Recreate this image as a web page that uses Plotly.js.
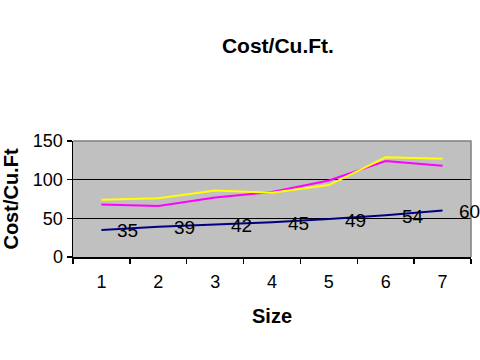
<!DOCTYPE html>
<html>
<head>
<meta charset="utf-8">
<script src="https://cdn.plot.ly/plotly-3.0.1.min.js"></script>
<style>html,body{margin:0;padding:0;background:#fff}#chart{width:480px;height:360px}</style>
</head>
<body>
<div id="chart"></div>
<script>
var sizes = ['1', '2', '3', '4', '5', '6', '7'];
var seriesYellow = [74, 76, 86, 83, 93, 129, 127];
var seriesMagenta = [68, 66, 77, 84, 99, 124, 118];
var seriesBlue = [35, 39, 42, 45, 49, 54, 60];
var blueLabels = ['35', '39', '42', '45', '49', '54', '60'];
var yTicks = [0, 50, 100, 150];

var font = 'Arial, "Liberation Sans", sans-serif';

var traces = [
  {x: sizes, y: seriesMagenta, type: 'scatter', mode: 'lines', line: {color: '#FF00FF', width: 2}, hoverinfo: 'skip'},
  {x: sizes, y: seriesYellow, type: 'scatter', mode: 'lines', line: {color: '#FFFF00', width: 2}, hoverinfo: 'skip'},
  {x: sizes, y: seriesBlue, type: 'scatter', mode: 'lines', line: {color: '#000080', width: 2}, hoverinfo: 'skip'}
];

// category axis: annotation x given as category index
var annotations = sizes.map(function (s, i) {
  return {x: i, y: seriesBlue[i], xref: 'x', yref: 'y', text: blueLabels[i], showarrow: false,
    xanchor: 'left', yanchor: 'middle', xshift: 14, yshift: -1,
    font: {family: font, size: 19, color: '#000'}};
});

var layout = {
  width: 480, height: 360,
  margin: {l: 73, r: 9, t: 141, b: 103},
  paper_bgcolor: '#ffffff',
  plot_bgcolor: '#C0C0C0',
  showlegend: false,
  title: {text: '<b>Cost/Cu.Ft.</b>', font: {family: font, size: 21, color: '#000'},
    xref: 'container', yref: 'container', x: 0.579, y: 0.874, xanchor: 'center', yanchor: 'middle'},
  xaxis: {
    type: 'category', categoryorder: 'array', categoryarray: sizes,
    range: [-0.5, sizes.length - 0.5], autorange: false,
    showline: true, linecolor: '#000', linewidth: 1.5,
    ticks: 'outside', ticklen: 5, tickcolor: '#000', tickwidth: 1.5, tickson: 'boundaries',
    showgrid: false, zeroline: false,
    ticklabelstandoff: 8,
    tickfont: {family: font, size: 18, color: '#000'},
    title: {text: '<b>Size</b>', font: {family: font, size: 20, color: '#000'}, standoff: 18},
    fixedrange: true
  },
  yaxis: {
    range: [0, 150], tickvals: yTicks, ticktext: yTicks.map(String),
    showline: true, linecolor: '#000', linewidth: 1.5,
    ticks: 'outside', ticklen: 5, tickcolor: '#000', tickwidth: 1.5,
    showgrid: true, gridcolor: '#000', gridwidth: 1.5, zeroline: false,
    tickfont: {family: font, size: 18, color: '#000'},
    title: {text: '<b>Cost/Cu.Ft</b>', font: {family: font, size: 20, color: '#000'}, standoff: 13},
    fixedrange: true
  },
  shapes: [{type: 'path', xref: 'paper', yref: 'paper', path: 'M 0 1 L 1 1 L 1 0', line: {color: '#808080', width: 1.5}, layer: 'above'}],
  annotations: annotations
};

Plotly.newPlot('chart', traces, layout, {staticPlot: true, displayModeBar: false});
</script>
</body>
</html>
